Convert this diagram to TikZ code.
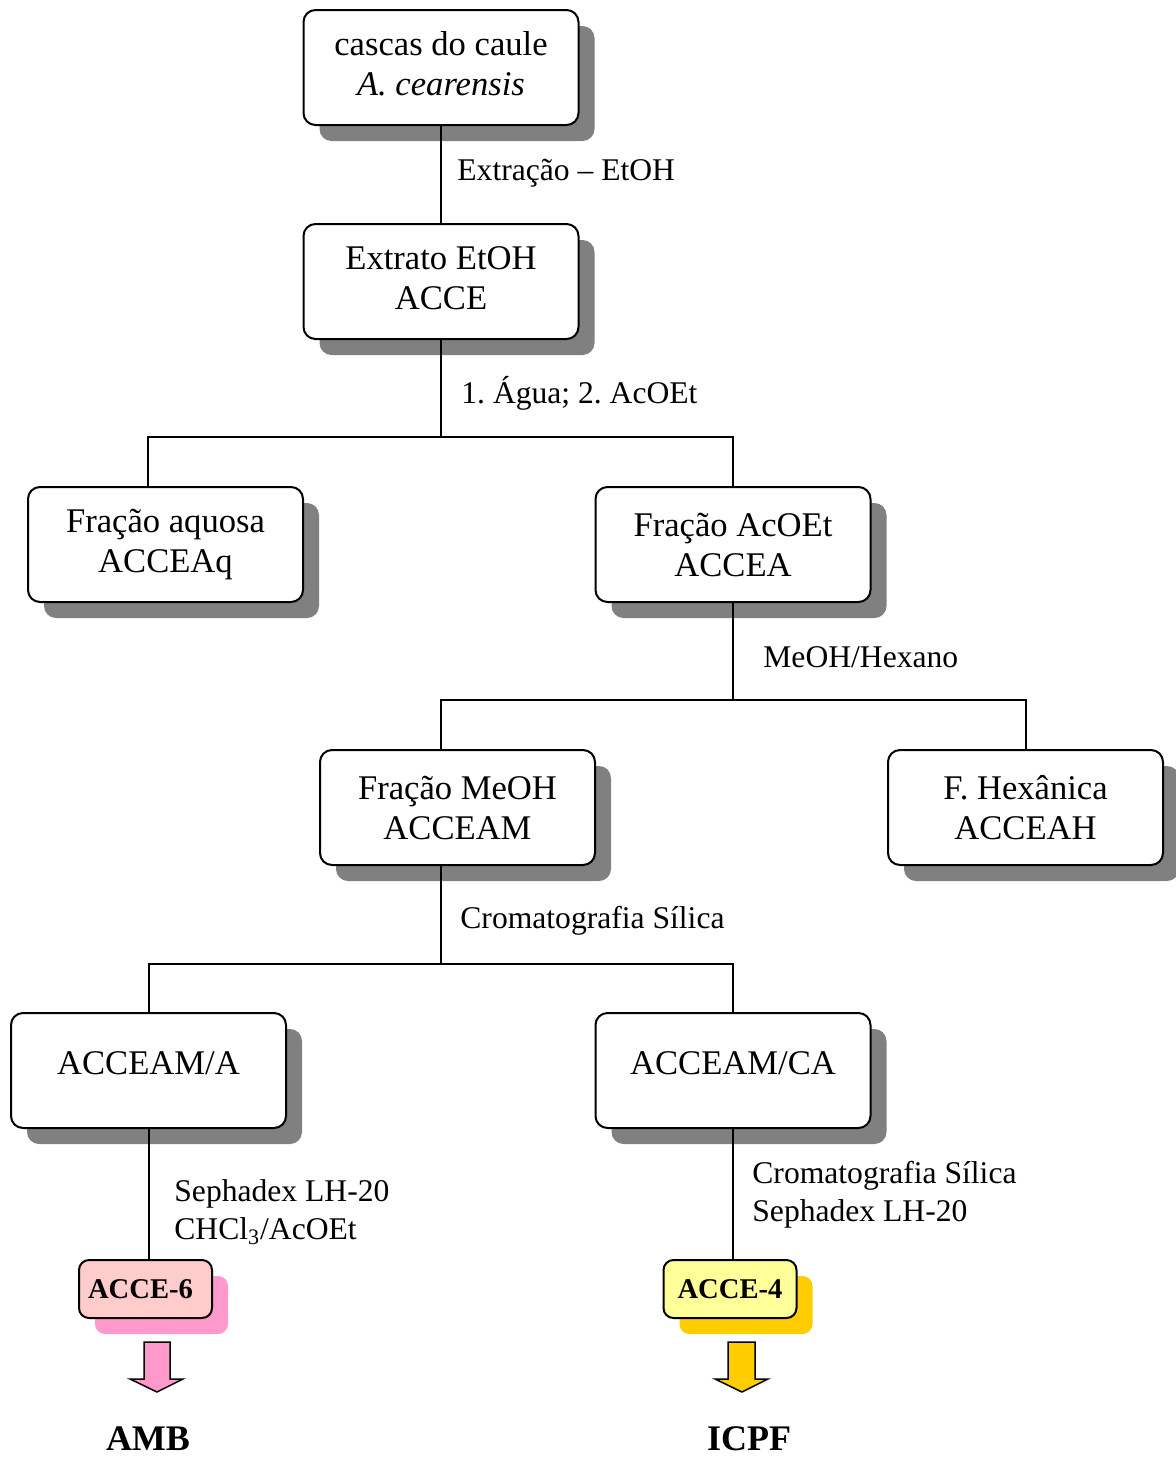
\documentclass[tikz,border=0pt]{standalone}
\usepackage{fontspec}
\setmainfont{Liberation Serif}
\usetikzlibrary{shadows}
\definecolor{shadowgray}{HTML}{808080}
\definecolor{pinkfill}{HTML}{FFCCCC}
\definecolor{pinkshadow}{HTML}{FF99CC}
\definecolor{yellowfill}{HTML}{FFFF99}
\definecolor{yellowshadow}{HTML}{FFCC00}
\frenchspacing
\begin{document}
\begin{tikzpicture}[x=0.5pt,y=-0.5pt,
  box/.style={draw, line width=1pt, rounded corners=6pt, fill=white,
    minimum width=137.5pt, minimum height=57.5pt, align=center, inner sep=0pt,
    font=\fontsize{17.3}{20}\selectfont,
    drop shadow={shadow xshift=8pt, shadow yshift=-8pt, opacity=1, fill=shadowgray}},
  smallbox/.style={draw, line width=1pt, rounded corners=5pt,
    minimum width=66.5pt, minimum height=29pt, inner sep=0pt,
    font=\fontsize{14.3}{17}\selectfont\bfseries},
  lbl/.style={anchor=west, inner sep=0pt, align=left, font=\fontsize{15.8}{19}\selectfont},
  result/.style={inner sep=0pt, font=\fontsize{18}{21}\selectfont\bfseries},
  conn/.style={line width=1pt},
  blockarrow/.style={draw, line width=0.75pt, line join=miter}
]
\useasboundingbox (0,0) rectangle (1176,1458);

% main boxes
\node[box] (b1) at (441,67.5) {\raisebox{3pt}{\begin{tabular}{@{}c@{}}cascas do caule\\\textit{A. cearensis}\end{tabular}}};
\node[box] (b2) at (441,281.5) {\raisebox{8pt}{\begin{tabular}{@{}c@{}}Extrato EtOH\\ACCE\end{tabular}}};
\node[box] (b3) at (165.5,544.5) {Fração aquosa\\ACCEAq};
\node[box] (b4) at (733,544.5) {Fração AcOEt\\ACCEA};
\node[box] (b5) at (457.5,807.5) {Fração MeOH\\ACCEAM};
\node[box] (b6) at (1025.5,807.5) {F. Hexânica\\ACCEAH};
\node[box] (b7) at (148.5,1070.5) {\raisebox{7pt}{ACCEAM/A}};
\node[box] (b8) at (733,1070.5) {\raisebox{7pt}{ACCEAM/CA}};

% final boxes
\node[smallbox, fill=pinkfill,
  drop shadow={shadow xshift=8pt, shadow yshift=-8pt, opacity=1, fill=pinkshadow}]
  (s6) at (145.5,1289) {\hspace*{-5pt}ACCE-6};
\node[smallbox, fill=yellowfill,
  drop shadow={shadow xshift=8pt, shadow yshift=-8pt, opacity=1, fill=yellowshadow}]
  (s4) at (730,1289) {ACCE-4};

\node[result] (amb) at (148,1439) {AMB};
\node[result] (icpf) at (749,1439) {ICPF};

% junction coordinates
\coordinate (j1) at (441,437);
\coordinate (d3) at (148,487);
\coordinate (j2) at (733,700);
\coordinate (d5) at (441,750);
\coordinate (u5) at (441,865);
\coordinate (j3) at (441,964);

% connectors
\draw[conn] (b1.south) -- (b2.north);
\draw[conn] (b2.south) -- (j1);
\draw[conn] (d3) |- (j1) -| (b4.north);
\draw[conn] (b4.south) -- (j2);
\draw[conn] (d5) |- (j2) -| (b6.north);
\draw[conn] (u5) -- (j3);
\draw[conn] (b7.north) |- (j3) -| (b8.north);
\draw[conn] (b7.south) -- (b7.south |- s6.north);
\draw[conn] (b8.south) -- (b8.south |- s4.north);

% labels
\node[lbl] (l1) at (457,173) {Extração -- EtOH};
\node[lbl] (l2) at (461,393) {1. Água; 2. AcOEt};
\node[lbl] (l3) at (763,657) {MeOH/Hexano};
\node[lbl] (l4) at (460,921) {Cromatografia Sílica};
\node[lbl] (l5) at (174,1212) {Sephadex LH-20\\CHCl\textsubscript{3}/AcOEt};
\node[lbl] (l6) at (752,1195) {Cromatografia Sílica\\Sephadex LH-20};

% block arrows
\draw[blockarrow, fill=pinkshadow] (144,1342) -- (170,1342) -- (170,1379) -- (183,1379)
  -- (157,1392) -- (130,1379) -- (144,1379) -- cycle;
\draw[blockarrow, fill=yellowshadow] (728,1342) -- (755,1342) -- (755,1379) -- (768,1379)
  -- (742,1392) -- (715,1379) -- (728,1379) -- cycle;
\end{tikzpicture}
\end{document}
